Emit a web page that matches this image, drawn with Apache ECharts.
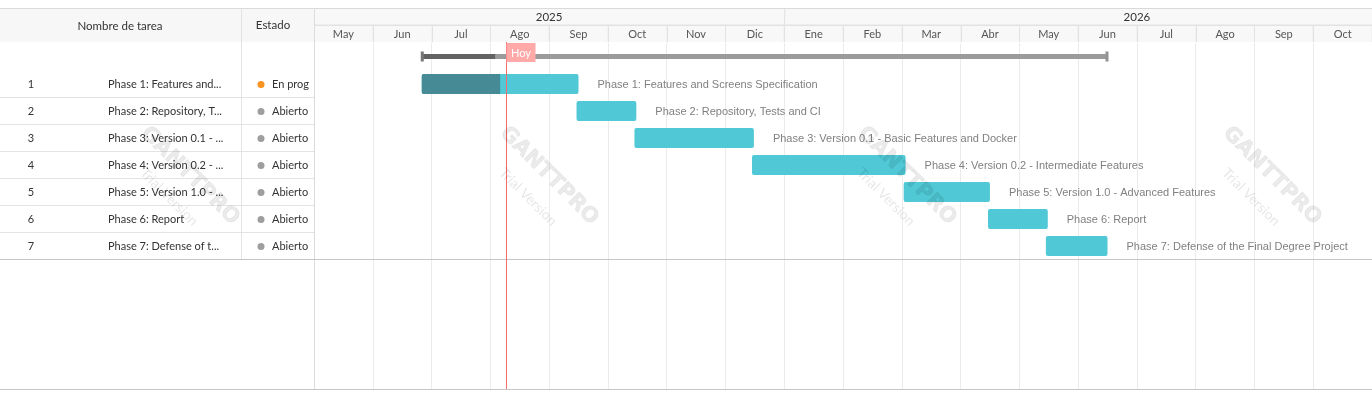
<!DOCTYPE html>
<html><head><meta charset="utf-8">
<script src="https://cdn.jsdelivr.net/npm/echarts@6/dist/echarts.min.js"></script>
<style>html,body{margin:0;padding:0;background:#fff}#c{width:1372px;height:402px}</style>
</head><body><div id="c"></div>
<script>
// ---------- DATA ----------
const taskNames = [
  'Phase 1: Features and Screens Specification',
  'Phase 2: Repository, Tests and CI',
  'Phase 3: Version 0.1 - Basic Features and Docker',
  'Phase 4: Version 0.2 - Intermediate Features',
  'Phase 5: Version 1.0 - Advanced Features',
  'Phase 6: Report',
  'Phase 7: Defense of the Final Degree Project'
];
const tableNames = [
  'Phase 1: Features and...',
  'Phase 2: Repository, T...',
  'Phase 3: Version 0.1 - ...',
  'Phase 4: Version 0.2 - ...',
  'Phase 5: Version 1.0 - ...',
  'Phase 6: Report',
  'Phase 7: Defense of t...'
];
const taskStatus = ['En progreso','Abierto','Abierto','Abierto','Abierto','Abierto','Abierto'];
const taskStart = ['2025-06-26','2025-09-15','2025-10-15','2025-12-15','2026-03-02','2026-04-15','2026-05-15'];
const taskEnd   = ['2025-09-15','2025-10-15','2025-12-15','2026-03-02','2026-04-15','2026-05-15','2026-06-15'];
const taskProgress = [0.5,0,0,0,0,0,0];
const projectStart = '2025-06-26';
const projectEnd = '2026-06-15';
const projectProgress = 0.107;
const todayDate = '2025-08-09';
const todayLabel = 'Hoy';
const monthLabels = ['May','Jun','Jul','Ago','Sep','Oct','Nov','Dic','Ene','Feb','Mar','Abr','May','Jun','Jul','Ago','Sep','Oct'];
const yearLabels = ['2025','2026'];
const headerLabels = ['Nombre de tarea','Estado'];

// ---------- helpers ----------
const T0Y = 2025, T0M = 5; // timeline starts May 2025
function mi(s, endInclusive){
  const [y,m,d] = s.split('-').map(Number);
  const dim = new Date(y, m, 0).getDate();
  return (y-T0Y)*12 + (m-T0M) + (d-1+(endInclusive?1:0))/dim;
}
const NM = monthLabels.length;
const ROWH = 27;
const BODY_TOP = 43, BODY_BOTTOM = 13;
const YMAX = (402 - BODY_TOP - BODY_BOTTOM)/ROWH;
const LEFTW = 314;
const FONT = 'Lato, "Noto Sans", sans-serif';
const LFONT = '"Liberation Sans", Arial, sans-serif';

const yearData = yearLabels.map(y => {
  const s = (Number(y)-T0Y)*12 - (T0M-1);
  return [Math.max(0,s), s+12, y];
});
const monthData = monthLabels.map((m,i)=>[i, m]);
const taskData = taskNames.map((n,i)=>[i, mi(taskStart[i],false), mi(taskEnd[i],true), taskProgress[i], n]);
const tableData = tableNames.map((n,i)=>[i, n, taskStatus[i]]);
const statusColor = {'En progreso':'#F7931E','Abierto':'#9E9E9E'};

const chart = echarts.init(document.getElementById('c'), null, {renderer:'canvas'});

const hiddenVal = (gi, min, max, inverse) => ({gridIndex:gi, type:'value', min, max, inverse:!!inverse,
  show:false, splitLine:{show:false}, axisLine:{show:false}, axisTick:{show:false}, axisLabel:{show:false}});

const watermarks = [];
[190, 549, 907, 1272].forEach(cx=>{
  watermarks.push({type:'text', x:cx, y:176, rotation:-Math.PI/4, silent:true, z:100,
    style:{text:'GANTTPRO', font:'bold 21px "DejaVu Sans", sans-serif', fill:'rgba(0,0,0,0.08)', stroke:'rgba(0,0,0,0.05)', lineWidth:1, textAlign:'center', textVerticalAlign:'middle'}});
  watermarks.push({type:'text', x:cx-21, y:197, rotation:-Math.PI/4, silent:true, z:100,
    style:{text:'Trial Version', font:'14px '+FONT, fill:'rgba(0,0,0,0.10)', textAlign:'center', textVerticalAlign:'middle'}});
});

const option = {
  animation:false,
  backgroundColor:'#fff',
  grid:[
    {left:LEFTW, right:0, top:8, height:34},
    {left:LEFTW, right:0, top:BODY_TOP, bottom:BODY_BOTTOM},
    {left:0, width:LEFTW, top:BODY_TOP, bottom:BODY_BOTTOM}
  ],
  xAxis:[
    hiddenVal(0, 0, NM),
    {gridIndex:1, type:'value', min:0, max:NM, interval:1, axisLine:{show:false}, axisTick:{show:false}, axisLabel:{show:false},
      splitLine:{show:true, lineStyle:{color:'#ebebeb', width:1}}},
    hiddenVal(2, 0, 1)
  ],
  yAxis:[
    hiddenVal(0, 0, 2, true),
    hiddenVal(1, 0, YMAX, true),
    hiddenVal(2, 0, YMAX, true)
  ],
  graphic: [
    {type:'rect', shape:{x:0,y:8,width:LEFTW,height:34}, style:{fill:'#f7f7f7'}, z:1, silent:true},
    {type:'text', x:120, y:26, style:{text:headerLabels[0], font:'11.5px '+FONT, fill:'#333', textAlign:'center', textVerticalAlign:'middle'}, z:5},
    {type:'text', x:273, y:25, style:{text:headerLabels[1], font:'11.5px '+FONT, fill:'#333', textAlign:'center', textVerticalAlign:'middle'}, z:5},
    {type:'line', shape:{x1:0,y1:8.5,x2:1372,y2:8.5}, style:{stroke:'#dadada', lineWidth:1}, z:6},
    {type:'line', shape:{x1:241.5,y1:8,x2:241.5,y2:259}, style:{stroke:'#e3e3e3', lineWidth:1}, z:6},
    {type:'line', shape:{x1:314.5,y1:8,x2:314.5,y2:389}, style:{stroke:'#dcdcdc', lineWidth:1}, z:6},
    {type:'line', shape:{x1:0,y1:259.5,x2:1372,y2:259.5}, style:{stroke:'#c6c6c6', lineWidth:1}, z:6},
    {type:'line', shape:{x1:0,y1:389.5,x2:1372,y2:389.5}, style:{stroke:'#c6c6c6', lineWidth:1}, z:6}
  ].concat(watermarks),
  series:[
    { // year header
      type:'custom', xAxisIndex:0, yAxisIndex:0, clip:true, data:yearData, z:3,
      renderItem(params, api){
        const p0 = api.coord([api.value(0), 0]), p1 = api.coord([api.value(1), 1]);
        const pc = api.coord([(api.value(0)+api.value(1))/2, 0.5]);
        return {type:'group', children:[
          {type:'rect', shape:{x:p0[0]+0.5, y:p0[1], width:p1[0]-p0[0], height:p1[1]-p0[1]}, style:{fill:'#f8f8f8', stroke:'#e2e2e2', lineWidth:1}},
          {type:'text', style:{text:yearData[params.dataIndex][2], x:pc[0], y:pc[1]+1, textAlign:'center', textVerticalAlign:'middle', font:'11.5px '+FONT, fill:'#333'}}
        ]};
      }
    },
    { // month header
      type:'custom', xAxisIndex:0, yAxisIndex:0, clip:true, data:monthData, z:3,
      renderItem(params, api){
        const i = api.value(0);
        const p0 = api.coord([i, 1]), p1 = api.coord([i+1, 2]);
        const pc = api.coord([i+0.5, 1.5]);
        return {type:'group', children:[
          {type:'rect', shape:{x:Math.round(p0[0])+0.5, y:p0[1]+0.5, width:p1[0]-p0[0], height:p1[1]-p0[1]}, style:{fill:'#f8f8f8', stroke:'#e2e2e2', lineWidth:1}},
          {type:'text', style:{text:monthLabels[params.dataIndex], x:pc[0], y:pc[1]+1, textAlign:'center', textVerticalAlign:'middle', font:'11px '+FONT, fill:'#555'}}
        ]};
      }
    },
    { // project summary bar
      type:'custom', xAxisIndex:1, yAxisIndex:1, clip:true, z:4,
      data:[[mi(projectStart,false), mi(projectEnd,true), projectProgress]],
      renderItem(params, api){
        const a = api.coord([api.value(0), 0.5]), b = api.coord([api.value(1), 0.5]);
        const w = b[0]-a[0], yc = a[1];
        return {type:'group', children:[
          {type:'rect', shape:{x:a[0], y:yc-2.5, width:w, height:5}, style:{fill:'#9b9b9b'}},
          {type:'rect', shape:{x:a[0], y:yc-2.5, width:w*api.value(2), height:5}, style:{fill:'#626262'}},
          {type:'rect', shape:{x:a[0]-1, y:yc-5, width:3, height:10}, style:{fill:'#777'}},
          {type:'rect', shape:{x:b[0]-2, y:yc-5, width:3, height:10}, style:{fill:'#929292'}}
        ]};
      }
    },
    { // task bars
      type:'custom', xAxisIndex:1, yAxisIndex:1, clip:true, z:4, data:taskData,
      renderItem(params, api){
        const i = api.value(0);
        const a = api.coord([api.value(1), i+1.5]), b = api.coord([api.value(2), i+1.5]);
        const w = b[0]-a[0], yc = a[1]+0.5, p = api.value(3);
        const ch = [
          {type:'rect', shape:{x:a[0], y:yc-10, width:w, height:20, r:2}, style:{fill:'#50C8D6'}}
        ];
        if (p>0) ch.push({type:'rect', shape:{x:a[0], y:yc-10, width:w*p, height:20, r:[2,0,0,2]}, style:{fill:'#468A96'}});
        ch.push({type:'text', style:{text:taskNames[params.dataIndex], x:b[0]+19, y:yc+0.5, textAlign:'left', textVerticalAlign:'middle', font:'11px '+LFONT, fill:'#808080'}});
        return {type:'group', children:ch};
      }
    },
    { // today marker
      type:'custom', xAxisIndex:1, yAxisIndex:1, clip:false, z:10, data:[[mi(todayDate,false)]],
      renderItem(params, api){
        const top = api.coord([api.value(0), 0]), bot = api.coord([api.value(0), YMAX]);
        const x = Math.round(top[0])+0.5;
        return {type:'group', children:[
          {type:'line', shape:{x1:x, y1:top[1]-1, x2:x, y2:bot[1]}, style:{stroke:'#F76B6B', lineWidth:1}},
          {type:'rect', shape:{x:x, y:top[1], width:29, height:19}, style:{fill:'#FFA9A9'}},
          {type:'text', style:{text:todayLabel, x:x+14.5, y:top[1]+10, textAlign:'center', textVerticalAlign:'middle', font:'11px '+FONT, fill:'#fff'}}
        ]};
      }
    },
    { // left table
      type:'custom', xAxisIndex:2, yAxisIndex:2, clip:false, z:4, data:tableData,
      renderItem(params, api){
        const i = api.value(0);
        const c = api.coord([0, i+1.5]);
        const x0 = params.coordSys.x, yc = c[1]+1;
        const st = tableData[params.dataIndex][2];
        const ch = [
          {type:'text', style:{text:String(i+1), x:x0+31, y:yc, textAlign:'center', textVerticalAlign:'middle', font:'11px '+FONT, fill:'#333'}},
          {type:'text', style:{text:tableData[params.dataIndex][1], x:x0+108, y:yc, textAlign:'left', textVerticalAlign:'middle', font:'11px '+FONT, fill:'#333'}},
          {type:'circle', shape:{cx:x0+261, cy:yc, r:3.5}, style:{fill:statusColor[st]||'#9E9E9E'}},
          {type:'text', style:{text:st, x:x0+272, y:yc, textAlign:'left', textVerticalAlign:'middle', font:'11px '+FONT, fill:'#333', width:42, overflow:'truncate', ellipsis:''}}
        ];
        if (i < tableNames.length-1) {
          const yb = Math.round(api.coord([0, i+2])[1])+0.5;
          ch.push({type:'line', shape:{x1:x0, y1:yb, x2:x0+LEFTW, y2:yb}, style:{stroke:'#e3e3e3', lineWidth:1}});
        }
        return {type:'group', children:ch};
      }
    }
  ]
};
chart.setOption(option);
</script>
</body></html>
